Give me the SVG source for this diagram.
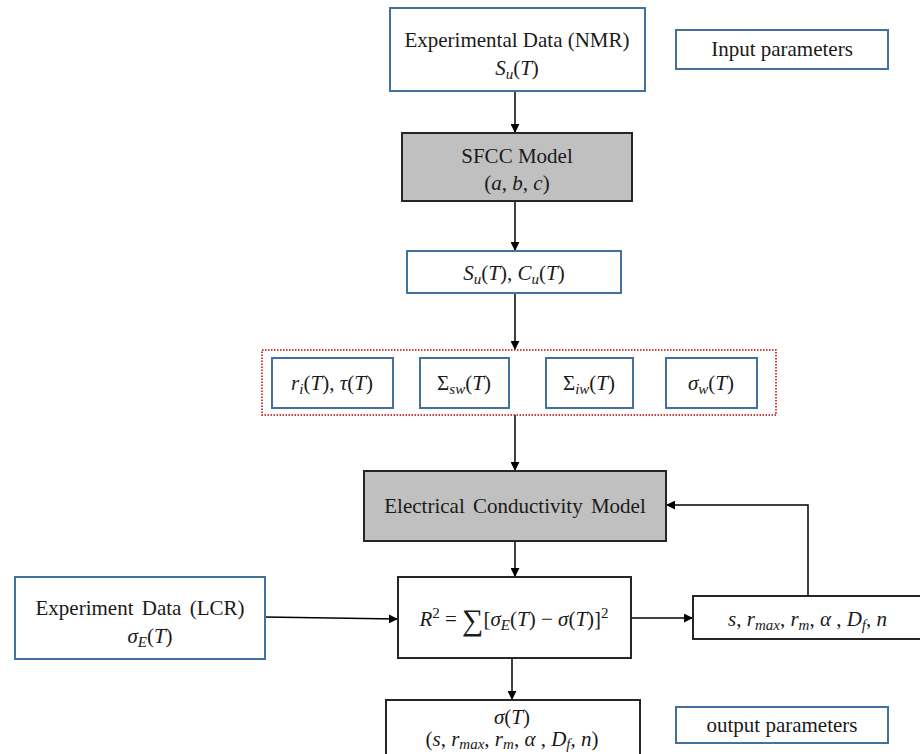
<svg xmlns="http://www.w3.org/2000/svg" width="920" height="754" viewBox="0 0 920 754">
<style>
text{font-family:"Liberation Serif","Times New Roman",serif;font-size:21px;fill:#1a1a1a;text-anchor:middle}
.i{font-style:italic}
.s{font-size:15px}
.blue{fill:#fff;stroke:#41719c;stroke-width:2}
.gray{fill:#c0c0c0;stroke:#262626;stroke-width:2}
.dark{fill:#fff;stroke:#262626;stroke-width:2}
.red{fill:none;stroke:#c00000;stroke-width:1.5;stroke-dasharray:1.5 1.5}
.c{fill:none;stroke:#000;stroke-width:1.5}
</style>
<defs>
<marker id="ah" viewBox="0 0 10 10" refX="9" refY="5" markerWidth="9" markerHeight="9" markerUnits="userSpaceOnUse" orient="auto"><path d="M0,0 L10,5 L0,10 z" fill="#000"/></marker>
</defs>
<rect width="920" height="754" fill="#fff"/>
<g id="connectors">
<line class="c" x1="515" y1="92" x2="515" y2="132" marker-end="url(#ah)"/>
<line class="c" x1="515" y1="202" x2="515" y2="250" marker-end="url(#ah)"/>
<line class="c" x1="515" y1="294" x2="515" y2="349" marker-end="url(#ah)"/>
<line class="c" x1="515" y1="415" x2="515" y2="470" marker-end="url(#ah)"/>
<line class="c" x1="515" y1="541" x2="515" y2="576" marker-end="url(#ah)"/>
<line class="c" x1="265" y1="617" x2="397" y2="619" marker-end="url(#ah)"/>
<line class="c" x1="632" y1="618" x2="692" y2="618" marker-end="url(#ah)"/>
<polyline class="c" points="808,596 808,505 667,505" marker-end="url(#ah)"/>
<line class="c" x1="512" y1="659" x2="512" y2="699" marker-end="url(#ah)"/>
</g>
<g id="nmr">
<rect class="blue" x="390" y="8" width="255" height="83"/>
<text x="517" y="47">Experimental Data (NMR)</text>
<text x="517" y="75" class="i">S<tspan class="s" dy="4">u</tspan><tspan dy="-4" font-style="normal">(</tspan>T<tspan font-style="normal">)</tspan></text>
</g>
<g id="input">
<rect class="blue" x="676" y="30" width="212" height="39"/>
<text x="782" y="56">Input parameters</text>
</g>
<g id="sfcc">
<rect class="gray" x="402" y="133" width="230" height="68"/>
<text x="517" y="163">SFCC Model</text>
<text x="517" y="190">(<tspan class="i">a</tspan>, <tspan class="i">b</tspan>, <tspan class="i">c</tspan>)</text>
</g>
<g id="sucu">
<rect class="blue" x="407" y="251" width="214" height="42"/>
<text x="514" y="280"><tspan class="i">S</tspan><tspan class="s i" dy="4">u</tspan><tspan dy="-4">(</tspan><tspan class="i">T</tspan>), <tspan class="i">C</tspan><tspan class="s i" dy="4">u</tspan><tspan dy="-4">(</tspan><tspan class="i">T</tspan>)</text>
</g>
<g id="group">
<rect class="red" x="262" y="350" width="514" height="65"/>
</g>
<g id="ri">
<rect class="blue" x="272" y="358" width="121" height="50"/>
<text x="332" y="390"><tspan class="i">r</tspan><tspan class="s i" dy="4">i</tspan><tspan dy="-4">(</tspan><tspan class="i">T</tspan>), <tspan class="i">τ</tspan>(<tspan class="i">T</tspan>)</text>
</g>
<g id="ssw">
<rect class="blue" x="420" y="358" width="89" height="50"/>
<text x="464" y="390">Σ<tspan class="s i" dy="4">sw</tspan><tspan dy="-4">(</tspan><tspan class="i">T</tspan>)</text>
</g>
<g id="siw">
<rect class="blue" x="546" y="358" width="87" height="50"/>
<text x="589" y="390">Σ<tspan class="s i" dy="4">iw</tspan><tspan dy="-4">(</tspan><tspan class="i">T</tspan>)</text>
</g>
<g id="sw">
<rect class="blue" x="666" y="358" width="91" height="50"/>
<text x="711" y="390"><tspan class="i">σ</tspan><tspan class="s i" dy="4">w</tspan><tspan dy="-4">(</tspan><tspan class="i">T</tspan>)</text>
</g>
<g id="ecm">
<rect class="gray" x="364" y="471" width="302" height="70"/>
<text x="515" y="513" word-spacing="3">Electrical Conductivity Model</text>
</g>
<g id="r2">
<rect class="dark" x="398" y="577" width="233" height="81"/>
<text x="514" y="626"><tspan class="i">R</tspan><tspan class="s" dy="-8">2</tspan><tspan dy="8"> = </tspan><tspan font-size="30" dy="4">∑</tspan><tspan dy="-4">[</tspan><tspan class="i">σ</tspan><tspan class="s i" dy="4">E</tspan><tspan dy="-4">(</tspan><tspan class="i">T</tspan>) − <tspan class="i">σ</tspan>(<tspan class="i">T</tspan>)]<tspan class="s" dy="-8">2</tspan></text>
</g>
<g id="lcr">
<rect class="blue" x="15" y="577" width="250" height="82"/>
<text x="140" y="615" word-spacing="3">Experiment Data (LCR)</text>
<text x="150" y="643"><tspan class="i">σ</tspan><tspan class="s i" dy="4">E</tspan><tspan dy="-4">(</tspan><tspan class="i">T</tspan>)</text>
</g>
<g id="params">
<rect class="dark" x="693" y="596" width="235" height="43"/>
<text x="728" y="626" style="text-anchor:start"><tspan class="i">s</tspan>, <tspan class="i">r</tspan><tspan class="s i" dy="4">max</tspan><tspan dy="-4">, </tspan><tspan class="i">r</tspan><tspan class="s i" dy="4">m</tspan><tspan dy="-4">, </tspan><tspan class="i">α</tspan> , <tspan class="i">D</tspan><tspan class="s i" dy="4">f</tspan><tspan dy="-4">, </tspan><tspan class="i">n</tspan></text>
</g>
<g id="sigma">
<rect class="dark" x="386" y="700" width="254" height="70"/>
<text x="512" y="724"><tspan class="i">σ</tspan>(<tspan class="i">T</tspan>)</text>
<text x="512" y="746">(<tspan class="i">s</tspan>, <tspan class="i">r</tspan><tspan class="s i" dy="3">max</tspan><tspan dy="-3">, </tspan><tspan class="i">r</tspan><tspan class="s i" dy="3">m</tspan><tspan dy="-3">, </tspan><tspan class="i">α</tspan> , <tspan class="i">D</tspan><tspan class="s i" dy="3">f</tspan><tspan dy="-3">, </tspan><tspan class="i">n</tspan>)</text>
</g>
<g id="output">
<rect class="blue" x="676" y="707" width="212" height="36"/>
<text x="782" y="732">output parameters</text>
</g>
</svg>
